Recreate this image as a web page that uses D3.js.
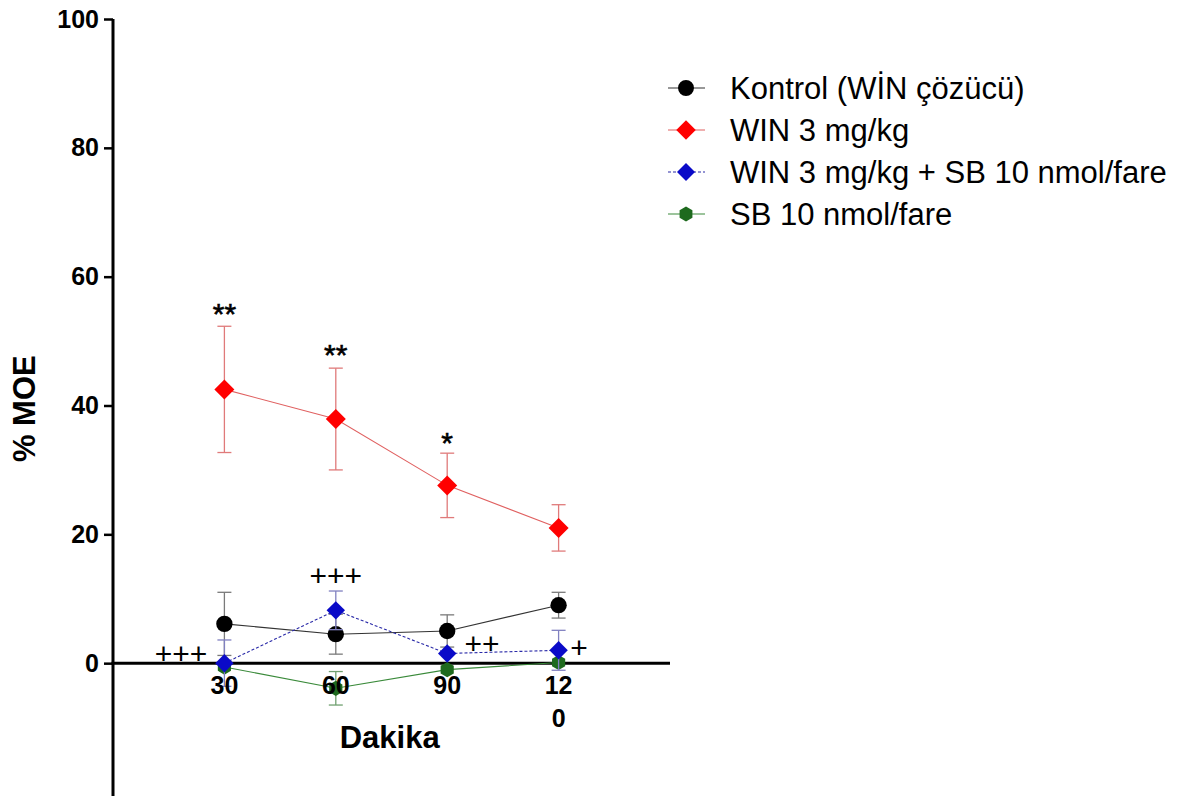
<!DOCTYPE html>
<html>
<head>
<meta charset="utf-8">
<script src="https://cdn.jsdelivr.net/npm/d3@7"></script>
<style>
  html, body { margin: 0; padding: 0; background: #fff; }
  svg { display: block; }
</style>
</head>
<body>
<svg id="chart" width="1177" height="796"></svg>
<script>
// ---- data ----
const minutes = [30, 60, 90, 120];
const xTickLabels = [["30"], ["60"], ["90"], ["12", "0"]];
const yTicks = [0, 20, 40, 60, 80, 100];

const kontrolMean = [6.1, 4.5, 5.0, 9.0];
const kontrolSem  = [4.9, 3.1, 2.5, 2.0];
const winMean     = [42.5, 37.9, 27.6, 21.0];
const winSem      = [9.8, 7.9, 5.0, 3.6];
const winSbMean   = [0.0, 8.2, 1.5, 2.0];
const winSbSem    = [3.6, 3.0, 0.0, 3.1];
const sbMean      = [-0.6, -3.9, -1.0, 0.1];
const sbSem       = [0.0, 2.6, 0.0, 0.0];

const seriesNames = ["Kontrol (WİN çözücü)", "WIN 3 mg/kg", "WIN 3 mg/kg + SB 10 nmol/fare", "SB 10 nmol/fare"];

// annotations: [x (minutes), y (% MOE, text baseline), label]
const annotX = [30, 60, 90, 18.3, 60, 99.4, 125.5];
const annotY = [52.7, 46.3, 32.6, -0.2, 12.0, 1.4, 0.8];
const annotText = ["**", "**", "*", "+++", "+++", "++", "+"];

// ---- layout ----
const svg = d3.select("#chart");
const x = d3.scaleLinear().domain([0, 150]).range([113, 670]);
const y = d3.scaleLinear().domain([-20, 100]).range([792, 19]);
const FONT = "'Liberation Sans', Arial, sans-serif";

const styles = [
  { color: "#000000", line: "#333333", err: "#7a7a7a", dash: null, shape: "circle", size: 210 },
  { color: "#ff0000", line: "#e06060", err: "#e07a7a", dash: null, shape: "diamond", size: 200 },
  { color: "#0a0ac8", line: "#2a2aa8", err: "#8080c0", dash: "3,2", shape: "diamond", size: 170 },
  { color: "#1e6a1e", line: "#3a8a3a", err: "#70a070", dash: null, shape: "hex", size: 150 }
];
const means = [kontrolMean, winMean, winSbMean, sbMean];
const sems = [kontrolSem, winSem, winSbSem, sbSem];

function hexPath(r) {
  const pts = d3.range(6).map(i => {
    const a = Math.PI / 6 + i * Math.PI / 3;
    return [r * Math.cos(a), r * Math.sin(a)];
  });
  return "M" + pts.map(p => p.join(",")).join("L") + "Z";
}
function markerPath(shape, size) {
  if (shape === "circle") return d3.symbol(d3.symbolCircle, size)();
  if (shape === "diamond") {
    const r = Math.sqrt(size / 2);
    return `M0,${-r}L${r},0L0,${r}L${-r},0Z`;
  }
  return hexPath(Math.sqrt(size / 2.6));
}

// Y axis
const yAxis = d3.axisLeft(y).tickValues(yTicks).tickSize(9).tickPadding(5).tickFormat(d3.format("d"));
const yg = svg.append("g").attr("transform", `translate(${x(0)},0)`).call(yAxis);
yg.select(".domain").attr("stroke", "#000").attr("stroke-width", 3).attr("d", `M0,${y(100)}V${y(-20) + 4}`);
yg.selectAll(".tick line").attr("stroke", "#000").attr("stroke-width", 2.5);
yg.selectAll(".tick text").attr("fill", "#000")
  .style("font-family", FONT)
  .style("font-weight", "bold").style("font-size", "25px");

// X axis line (at y=0)
svg.append("line")
  .attr("x1", x(0) - 1.5).attr("x2", x(150))
  .attr("y1", y(0)).attr("y2", y(0))
  .attr("stroke", "#000").attr("stroke-width", 3);

// Series (draw green, black, blue, red)
const order = [3, 0, 2, 1];
const plot = svg.append("g");
order.forEach(si => {
  const st = styles[si];
  const g = plot.append("g");
  const pts = minutes.map((m, i) => ({ m, v: means[si][i], e: sems[si][i] }));
  pts.forEach(p => {
    if (p.e <= 0) return;
    const cx = x(p.m), top = y(p.v + p.e), bot = y(p.v - p.e);
    g.append("line").attr("x1", cx).attr("x2", cx).attr("y1", top).attr("y2", bot)
      .attr("stroke", st.err).attr("stroke-width", 1.3);
    [top, bot].forEach(yy => g.append("line")
      .attr("x1", cx - 7).attr("x2", cx + 7).attr("y1", yy).attr("y2", yy)
      .attr("stroke", st.err).attr("stroke-width", 1.3));
  });
  g.append("path").datum(pts)
    .attr("d", d3.line().x(d => x(d.m)).y(d => y(d.v)))
    .attr("fill", "none").attr("stroke", st.line).attr("stroke-width", 1.1)
    .attr("stroke-dasharray", st.dash);
  g.selectAll("path.mk").data(pts).enter().append("path").attr("class", "mk")
    .attr("d", markerPath(st.shape, st.size))
    .attr("transform", d => `translate(${x(d.m)},${y(d.v)})`)
    .attr("fill", st.color);
});

// X tick labels (drawn on top)
const xl = svg.append("g").style("font-family", FONT)
  .style("font-weight", "bold").style("font-size", "25px");
minutes.forEach((m, i) => {
  xTickLabels[i].forEach((t, j) => {
    xl.append("text").attr("x", x(m)).attr("y", y(0) + 31 + j * 33)
      .attr("text-anchor", "middle").attr("fill", "#000").text(t);
  });
});

// Axis titles
svg.append("text").attr("x", x(74.5)).attr("y", 748)
  .attr("text-anchor", "middle")
  .style("font-family", FONT)
  .style("font-weight", "bold").style("font-size", "31px").text("Dakika");
svg.append("text")
  .attr("transform", `translate(35,${y(39.5)}) rotate(-90)`)
  .attr("text-anchor", "middle")
  .style("font-family", FONT)
  .style("font-weight", "bold").style("font-size", "31px").text("% MOE");

// Annotations
annotText.forEach((t, i) => {
  svg.append("text").attr("x", x(annotX[i])).attr("y", y(annotY[i]))
    .attr("text-anchor", "middle")
    .style("font-family", FONT)
    .style("font-size", "30px").attr("fill", "#000")
    .attr("stroke", t.includes("*") ? "#000" : "none").attr("stroke-width", 0.6)
    .text(t);
});

// Legend
const lg = svg.append("g").attr("transform", "translate(668,88)");
seriesNames.forEach((name, i) => {
  const st = styles[i];
  const row = lg.append("g").attr("transform", `translate(0,${i * 42})`);
  row.append("line").attr("x1", 0).attr("x2", 37).attr("y1", 0).attr("y2", 0)
    .attr("stroke", st.line).attr("stroke-width", 1.2).attr("stroke-dasharray", st.dash);
  row.append("path").attr("d", markerPath(st.shape, st.size * 0.95))
    .attr("transform", "translate(18,0)").attr("fill", st.color);
  row.append("text").attr("x", 62).attr("y", 11)
    .style("font-family", FONT)
    .style("font-size", "31px").attr("fill", "#000").text(name);
});
</script>
</body>
</html>
